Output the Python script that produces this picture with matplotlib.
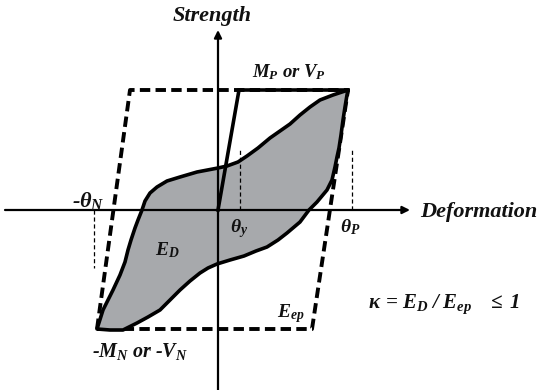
import matplotlib
matplotlib.use("Agg")
import matplotlib.pyplot as plt

plt.rcParams['mathtext.fontset'] = 'custom'
plt.rcParams['mathtext.rm'] = 'Liberation Serif:bold:italic'
plt.rcParams['mathtext.it'] = 'Liberation Serif:bold:italic'
plt.rcParams['mathtext.bf'] = 'Liberation Serif:bold:italic'
plt.rcParams['lines.scale_dashes'] = False

# Hysteresis loop (deformation, strength), origin at axes crossing
loop_def = [130, 115, 102, 92, 82, 72, 62, 52, 40, 29, 20, 9, 0, -21, -38, -51, -61, -68,
            -73, -76, -80, -83, -87, -90, -93, -98, -105, -115, -121,
            -108, -95, -81, -70, -58, -48, -38, -28, -18, -10, -1, 12, 26, 38, 49, 60, 69,
            82, 91, 99, 109, 114, 117, 119, 121, 123, 125, 127, 129, 130]
loop_str = [120, 115, 110, 103, 95, 86, 79, 72, 62, 54, 48, 44, 42, 38, 33, 29, 23, 17,
            9, 0, -10, -18, -30, -40, -52, -65, -80, -100, -119,
            -120, -120, -113, -107, -100, -90, -80, -71, -63, -58, -54, -50, -46, -41, -37,
            -30, -23, -12, 0, 8, 20, 30, 43, 53, 62, 75, 90, 103, 115, 120]

# Elastic-perfectly-plastic envelope (dashed parallelogram)
ep_def = [-121, -88, 130, 94, -121]
ep_str = [-119, 120, 120, -119, -119]

# Elastic branch and plastic plateau
el_def = [0, 21, 130]
el_str = [0, 120, 120]

theta_y = 22
theta_p = 134
theta_n = -124
guide_top = 60
guide_bot = -58

fig = plt.figure(figsize=(5.39, 3.90), dpi=100)
ax = fig.add_axes([0, 0, 1, 1])
ax.set_xlim(-218, 321)
ax.set_ylim(-180, 210)
ax.axis('off')

# axes
akw = dict(arrowstyle='-|>', lw=1.6, color='black', mutation_scale=11, shrinkA=0, shrinkB=0)
ax.annotate('', xy=(0, 180), xytext=(0, -182), arrowprops=akw, zorder=6)
ax.annotate('', xy=(192, 0), xytext=(-213, 0), arrowprops=akw, zorder=6)

# guides
gkw = dict(color='black', lw=0.9, dashes=(3, 2), zorder=5)
ax.plot([theta_y, theta_y], [0, guide_top], **gkw)
ax.plot([theta_p, theta_p], [0, guide_top], **gkw)
ax.plot([theta_n, theta_n], [0, guide_bot], **gkw)

# envelope
ax.plot(ep_def, ep_str, color='black', lw=2.8, dashes=(7.5, 3.8),
        dash_capstyle='butt', zorder=3)

# loop
ax.fill(loop_def, loop_str, facecolor='#a7a9ac', edgecolor='black', lw=2.6,
        joinstyle='round', zorder=4)
ax.plot(el_def, el_str, color='black', lw=2.6, solid_joinstyle='miter', zorder=7)

tkw = dict(family='Liberation Serif', weight='bold', style='italic', color='#111111',
           va='baseline', ha='left', zorder=10)
ax.text(-6, 189, 'Strength', fontsize=16, **{**tkw, 'ha': 'center'})
ax.text(202, -7, 'Deformation', fontsize=16, **tkw)
ax.text(34, 133, r'$M_P$ or $V_P$', fontsize=13.5, **tkw)
ax.text(-146, 3, r'-$\theta_N$', fontsize=16, **tkw)
ax.text(12, -22, r'$\theta_y$', fontsize=14, **tkw)
ax.text(122, -22, r'$\theta_P$', fontsize=14, **tkw)
ax.text(-63, -45, r'$E_D$', fontsize=14, **tkw)
ax.text(59, -107, r'$E_{ep}$', fontsize=14, **tkw)
ax.text(-126, -147, r'-$M_N$ or -$V_N$', fontsize=14.5, **tkw)
ax.text(150, -98, r'$\kappa\,=\,E_D\;/\;E_{ep}\quad\leq\;1$', fontsize=15, **tkw)

fig.savefig('out.png', dpi=100)
